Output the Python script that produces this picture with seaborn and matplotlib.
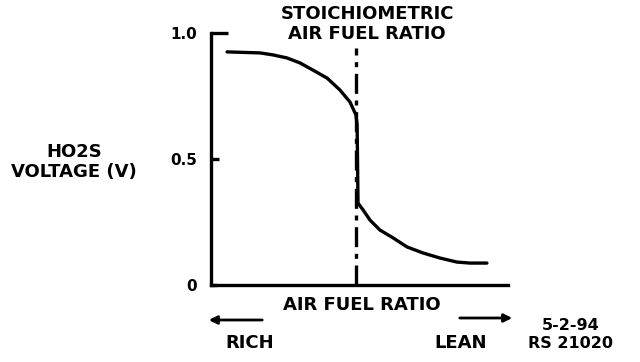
import matplotlib
matplotlib.use('Agg')
import matplotlib.pyplot as plt
import seaborn as sns
import pandas as pd

# curve (x = position along air/fuel axis 0..100, y = volts)
afr = [5.4, 16.5, 20.9, 25.6, 30.0, 34.3, 39.1, 43.4, 46.8, 48.8, 49.2, 49.3, 49.5,
       51.2, 53.5, 56.9, 61.3, 66.0, 71.4, 77.1, 82.8, 87.2, 92.9]
volts = [0.925, 0.921, 0.913, 0.901, 0.881, 0.853, 0.821, 0.774, 0.726, 0.675, 0.635, 0.536, 0.325,
         0.298, 0.258, 0.218, 0.187, 0.151, 0.127, 0.107, 0.091, 0.087, 0.087]
stoich_x = 48.8
ytick_vals = [0, 0.5, 1.0]
ytick_text = ['0', '0.5', '1.0']

df = pd.DataFrame({'afr': afr, 'volts': volts})

sns.set_style('white')
plt.rcParams['font.family'] = ['DejaVu Sans']
plt.rcParams['font.weight'] = 'bold'
plt.rcParams['text.color'] = 'black'

fig = plt.figure(figsize=(6.4, 3.62), dpi=100)
ax = fig.add_axes([211/640, 77/362, 297/640, 252/362])

sns.lineplot(data=df, x='afr', y='volts', sort=False, color='black', linewidth=2.4, ax=ax,
             solid_joinstyle='round')
ax.axvline(stoich_x, ymin=0, ymax=0.94, color='black', linewidth=2.4, linestyle=(0, (6, 2, 1.5, 2)))

ax.set_xlim(0, 100)
ax.set_ylim(0, 1.0)
sns.despine(ax=ax, top=True, right=True)
for s in ['left', 'bottom']:
    ax.spines[s].set_linewidth(2.4)
    ax.spines[s].set_color('black')

ax.set_xticks([])
ax.set_yticks(ytick_vals)
ax.set_yticklabels(ytick_text, fontsize=11, fontweight='heavy', color='black')
# seaborn's white style switches the ticks off, turn them back on
ax.tick_params(axis='y', left=True, direction='in', width=2.4, pad=10, colors='black')
lens = [4, 6, 12]
for t, L in zip(ax.yaxis.get_major_ticks(), lens):
    t.tick1line.set_markersize(L)
ax.set_xlabel('')
ax.set_ylabel('')

fw = 'heavy'
fs = 13
fig.text(367/640, 1 - 24/362, 'STOICHIOMETRIC\nAIR FUEL RATIO', ha='center', va='center',
         fontsize=fs, fontweight=fw, linespacing=1.15)
fig.text(74/640, 1 - 162/362, 'HO2S\nVOLTAGE (V)', ha='center', va='center',
         fontsize=fs, fontweight=fw, linespacing=1.2)
fig.text(362/640, 1 - 305/362, 'AIR FUEL RATIO', ha='center', va='center', fontsize=fs, fontweight=fw)
fig.text(250/640, 1 - 343/362, 'RICH', ha='center', va='center', fontsize=fs, fontweight=fw)
fig.text(461/640, 1 - 343/362, 'LEAN', ha='center', va='center', fontsize=fs, fontweight=fw)
fig.text(571/640, 1 - 335/362, '5-2-94\nRS 21020', ha='center', va='center', fontsize=11.5,
         fontweight=fw, linespacing=1.25)

arrow = dict(arrowstyle='-|>', color='black', linewidth=2, mutation_scale=12)
fig.add_artist(matplotlib.patches.FancyArrowPatch((265/640, 1 - 320/362), (206/640, 1 - 320/362),
                                                  transform=fig.transFigure, **arrow))
fig.add_artist(matplotlib.patches.FancyArrowPatch((457/640, 1 - 318/362), (515/640, 1 - 318/362),
                                                  transform=fig.transFigure, **arrow))

fig.savefig('out.png', dpi=100)
